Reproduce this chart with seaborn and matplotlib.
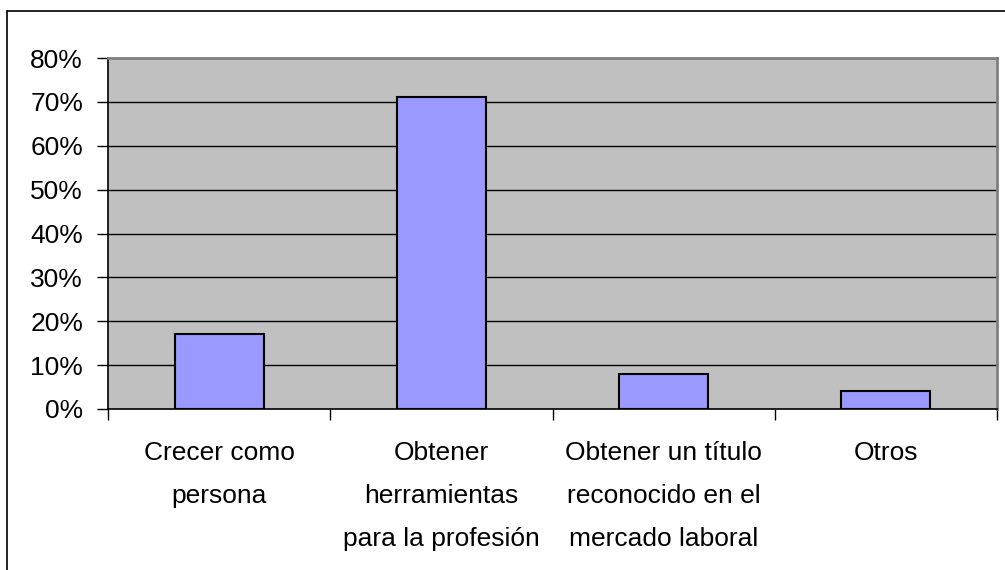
import matplotlib
matplotlib.use("Agg")
import matplotlib.pyplot as plt
import seaborn as sns
import pandas as pd
from matplotlib.lines import Line2D
from matplotlib.ticker import FuncFormatter, FixedLocator

# Datos
categorias = ['Crecer como\npersona',
              'Obtener\nherramientas\npara la profesión',
              'Obtener un título\nreconocido en el\nmercado laboral',
              'Otros']
porcentajes = [17, 71, 8, 4.2]

datos = pd.DataFrame({'categoria': categorias, 'porcentaje': porcentajes})

sns.set_style('white')
plt.rcParams['font.family'] = ['Liberation Sans', 'DejaVu Sans']
plt.rcParams['text.color'] = 'black'
plt.rcParams['xtick.color'] = 'black'
plt.rcParams['ytick.color'] = 'black'

W, H = 1005, 570
fig = plt.figure(figsize=(W / 100, H / 100), dpi=100)
ax = fig.add_axes([108 / W, (H - 409) / H, (997 - 108) / W, (409 - 58) / H])
ax.set_facecolor('#C0C0C0')

sns.barplot(data=datos, x='categoria', y='porcentaje', color='#9999FF',
            saturation=1, edgecolor='black', linewidth=1.5, width=0.4, ax=ax)

ax.set_ylim(0, 80)
ax.set_xlim(-0.5, 3.5)
ax.set_yticks(range(0, 81, 10))
ax.yaxis.set_major_formatter(FuncFormatter(lambda v, p: f'{int(v)}%'))
for v in range(10, 80, 10):
    ax.axhline(v, color='black', linewidth=1, zorder=0.5)

ax.set_xlabel('')
ax.set_ylabel('')
ax.tick_params(axis='y', direction='out', length=8, width=1, colors='black',
               labelsize=19, pad=10, left=True)
ax.tick_params(axis='x', which='major', length=0, labelsize=19, pad=23,
               labelcolor='black')
ax.xaxis.set_minor_locator(FixedLocator([-0.5, 0.5, 1.5, 2.5, 3.5]))
ax.tick_params(axis='x', which='minor', direction='out', length=8, width=1,
               color='black', bottom=True)
for lbl in ax.get_xticklabels():
    lbl.set_linespacing(2.0)
    lbl.set_verticalalignment('top')

for lado in ['left', 'bottom']:
    ax.spines[lado].set_color('black')
    ax.spines[lado].set_linewidth(1.2)
for lado in ['top', 'right']:
    ax.spines[lado].set_color('#808080')
    ax.spines[lado].set_linewidth(2)
    ax.spines[lado].set_visible(True)

# Marco exterior del gráfico
fig.add_artist(Line2D([7 / W, 7 / W], [0, 1 - 11 / H], color='black', linewidth=1.2,
                      transform=fig.transFigure))
fig.add_artist(Line2D([7 / W, 1], [1 - 11 / H, 1 - 11 / H], color='black', linewidth=1.2,
                      transform=fig.transFigure))

fig.savefig('out.png', dpi=100)
